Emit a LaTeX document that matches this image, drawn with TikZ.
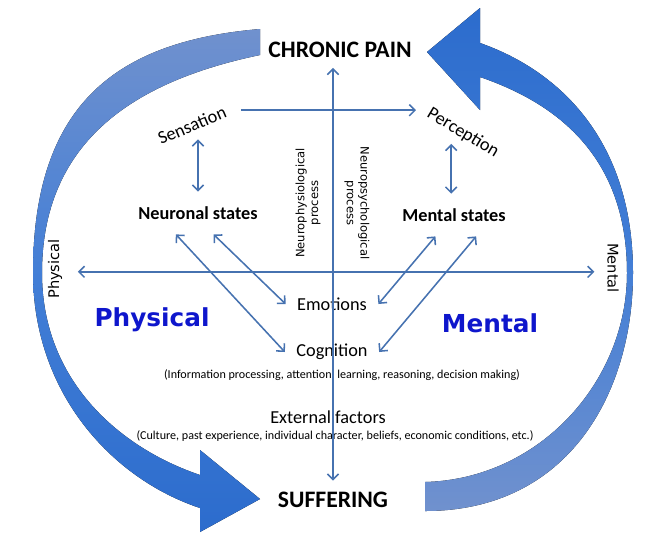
\documentclass[tikz,border=0pt]{standalone}
\usepackage{fontspec}
\setmainfont{Carlito}
\newfontfamily\dvsans{DejaVu Sans}
\usetikzlibrary{arrows.meta, positioning}
\definecolor{linkblue}{RGB}{70,114,176}
\definecolor{bandlight}{RGB}{112,145,206}
\definecolor{bandmid}{RGB}{66,126,214}
\definecolor{banddark}{RGB}{44,108,205}
\definecolor{realmblue}{RGB}{14,22,204}

\begin{document}
\begin{tikzpicture}[
    x=0.025cm, y=-0.025cm,
    >={Straight Barb[length=4pt, width=8pt]},
    every node/.style={inner sep=1pt},
    endpt/.style   ={font=\bfseries\fontsize{16.8}{20}\selectfont},
    statebox/.style={font=\bfseries\fontsize{13}{15}\selectfont, minimum height=30pt},
    soft/.style    ={font=\fontsize{13}{15}\selectfont},
    hub/.style     ={soft, inner xsep=8pt},
    note/.style    ={font=\fontsize{8.6}{10}\selectfont},
    sidelbl/.style ={font=\dvsans\fontsize{10.4}{12}\selectfont},
    proc/.style    ={font=\dvsans\fontsize{8.2}{9.8}\selectfont, align=center},
    realm/.style   ={font=\dvsans\bfseries\fontsize{17.6}{20}\selectfont, text=realmblue},
    link/.style    ={<->, linkblue, line width=1.1pt},
]
\useasboundingbox (0,0) rectangle (650,541);

% the two big turning arrows
\fill[top color=bandlight, bottom color=banddark, middle color=bandmid]
  (260,29) .. controls (120,41) and (33,101) .. (33,273)
  .. controls (33,391) and (110,478) .. (200,508)
  -- (200,532) -- (260,499) -- (200,450) -- (200,475)
  .. controls (120,448) and (42,381) .. (42,273)
  .. controls (42,131) and (150,78) .. (260,55) -- cycle;
\fill[top color=banddark, bottom color=bandlight, middle color=bandmid]
  (425,511) .. controls (570,511) and (633,391) .. (633,273)
  .. controls (633,141) and (560,71) .. (480,43)
  -- (480,8) -- (427,52) -- (480,110) -- (480,77)
  .. controls (550,101) and (627,151) .. (627,273)
  .. controls (627,381) and (540,479) .. (425,482) -- cycle;

\node[endpt] (pain) at (340,50) {CHRONIC PAIN};
\node[endpt] (suff) at (333,500) {SUFFERING};
\node[soft, rotate=23]  (sens) at (192,125) {Sensation};
\node[soft, rotate=-31] (perc) at (463,133) {Perception};
\node[statebox] (neur) at (198,213) {Neuronal states};
\node[statebox] (ment) at (454,215) {Mental states};
\node[proc, rotate=90]  (nphys) at (308,203) {Neurophysiological\\process};
\node[proc, rotate=-90] (npsy)  at (357,203) {Neuropsychological\\process};
\node[sidelbl, rotate=90]  (physside) at (55,269)  {Physical};
\node[sidelbl, rotate=-90] (mentside) at (613,268) {Mental};
\node[hub] (emo) at (332,304) {Emotions};
\node[hub] (cog) at (332,352) {Cognition};
\node[note] (cogx) at (342,375)
  {(Information processing, attention, learning, reasoning, decision making)};
\node[soft] (ext) at (328,417) {External factors};
\node[note] (extx) at (335,436)
  {(Culture, past experience, individual character, beliefs, economic conditions, etc.)};
\node[realm] (physbig) at (152,320) {Physical};
\node[realm] (mentbig) at (490,323) {Mental};

\draw[link, ->, shorten <=10pt, shorten >=8pt] (sens.east) -- (sens.east -| perc.west);
\draw[link, shorten >=5pt] (neur.north) -- (neur.north |- sens.south);
\draw[link, shorten >=2pt] ([xshift=-2pt]ment.north) -- ([xshift=-2pt]ment.north |- perc.south);
\draw[link, shorten <=10pt, shorten >=8pt]
  ([yshift=-2pt]physside.south) -- ([yshift=-2pt]physside.south -| mentside.south);
\draw[link] (neur.224) -- (cog.west);
\draw[link] (neur.306) -- (emo.west);
\draw[link] (ment.229) -- (emo.east);
\draw[link] (ment.316) -- (cog.east);
% the spine runs over the texts
\draw[link, shorten <=7pt, shorten >=6pt] (suff.north) -- (suff.north |- pain.south);
\end{tikzpicture}
\end{document}
